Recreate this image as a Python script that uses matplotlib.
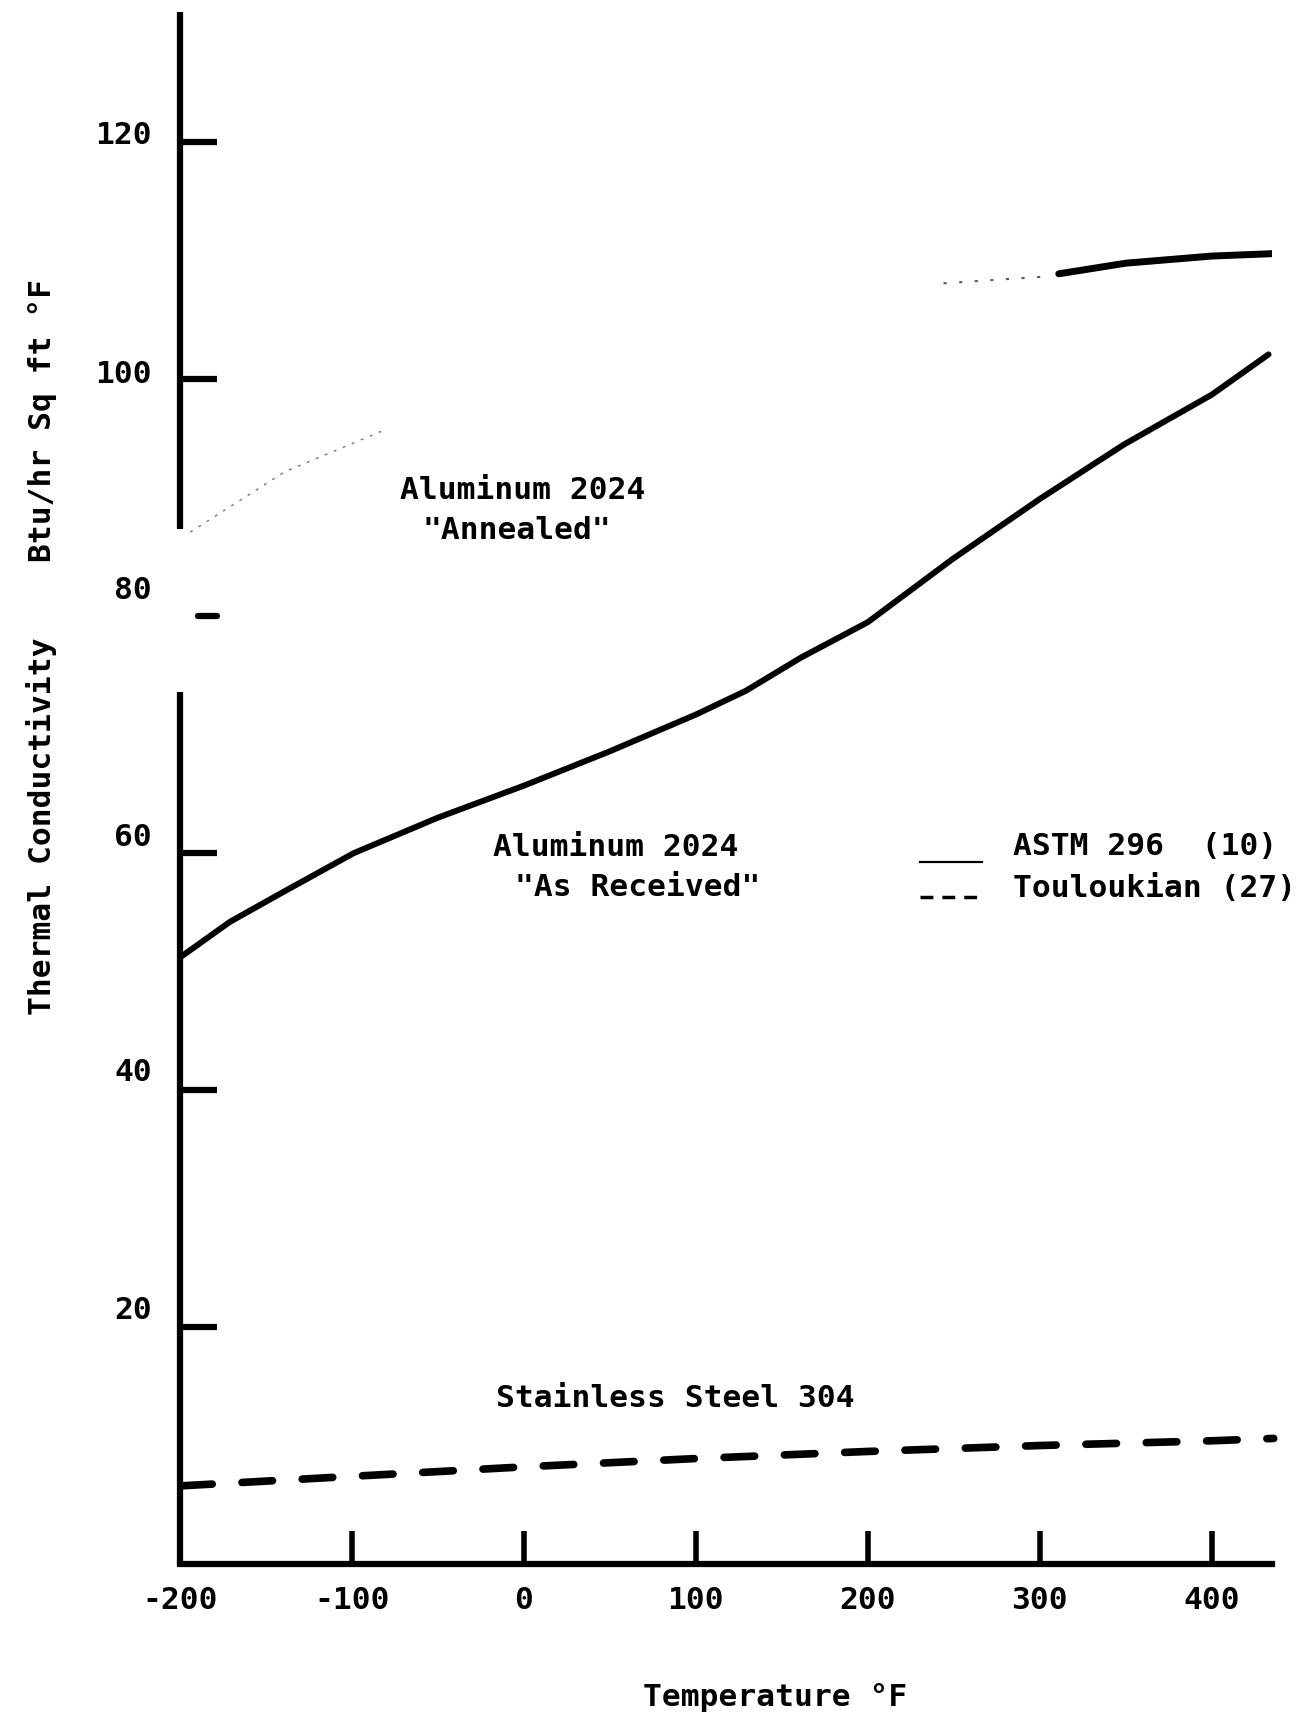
import numpy as np
import matplotlib.pyplot as plt
from matplotlib.lines import Line2D
from matplotlib.transforms import ScaledTranslation

plt.rcParams['font.family'] = 'DejaVu Sans Mono'
plt.rcParams['font.weight'] = 'bold'
plt.rcParams['font.size'] = 22.5

# Aluminum 2024 "As Received" (ASTM 296)
recv_t = [-199, -171, -139, -99, -50, 0, 50, 100, 129, 161, 200, 249, 300, 349, 400, 433]
recv_k = [51.3, 54.2, 56.8, 60.0, 63.0, 65.7, 68.6, 71.7, 73.7, 76.5, 79.5, 84.8, 89.9, 94.5, 98.7, 102.1]

# Aluminum 2024 "Annealed" - only these pieces of the curve survive
ann_left_t = [-194, -139, -83]
ann_left_k = [87.1, 92.2, 95.6]
ann_mid_t = [244, 275, 307]
ann_mid_k = [108.1, 108.4, 108.7]
ann_t = [311, 350, 400, 435]
ann_k = [108.9, 109.8, 110.4, 110.6]

# Stainless Steel 304 (Touloukian)
ss_t = [-199, -100, 0, 100, 200, 300, 400, 436]
ss_k = [6.6, 7.4, 8.2, 8.9, 9.5, 10.0, 10.4, 10.6]

xticks = [-200, -100, 0, 100, 200, 300, 400]
yticks = [20, 40, 60, 80, 100, 120]
ylab_shift = [20, 21, 19, 29, 8, 10]   # px, labels sit above their ticks

W, H = 1316, 1720
fig = plt.figure(figsize=(W / 100, H / 100), dpi=100)
ax = fig.add_axes([180 / W, 156 / H, 1092 / W, 1552 / H])
ax.set_xlim(-200, 435)
ax.set_ylim(0, 131)


def fx(x, y):
    return x / W, 1 - y / H


ax.plot(recv_t, recv_k, color='black', lw=4.3, solid_joinstyle='round', solid_capstyle='round')
ax.plot(ann_t, ann_k, color='black', lw=5, solid_capstyle='round')
ax.plot(ann_left_t, ann_left_k, color='0.45', lw=1, linestyle=(0, (2, 5)))
ax.plot(ann_mid_t, ann_mid_k, color='0.35', lw=1.5, linestyle=(0, (1.5, 6)))
ax.plot(ss_t, ss_k, color='black', lw=5.5, linestyle=(0, (4, 3.9)),
        dash_capstyle='round', clip_on=False)

# axes frame: left axis line is broken around 80
for s in ['top', 'right', 'left']:
    ax.spines[s].set_visible(False)
ax.spines['bottom'].set_linewidth(4.5)
ax.plot([-200, -200], [0, 73.6], color='black', lw=4.5, solid_capstyle='butt', clip_on=False)
ax.plot([-200, -200], [87.4, 131], color='black', lw=4.5, solid_capstyle='butt', clip_on=False)

ax.set_xticks(xticks)
ax.set_xticklabels([str(v) for v in xticks])
ax.set_yticks(yticks)
ax.set_yticklabels([str(v) for v in yticks])
ax.tick_params(axis='x', direction='in', length=23.8, width=4, pad=16, labelsize=22.5)
ax.tick_params(axis='y', direction='in', length=26.6, width=4.5, pad=20, labelsize=22.5)

# the 80 tick floats off the axis
ax.yaxis.get_major_ticks()[3].tick1line.set_visible(False)
ax.plot([-189.5, -178.5], [80, 80], color='black', lw=4.5, solid_capstyle='round', clip_on=False)

for lab, dy in zip(ax.get_yticklabels(), ylab_shift):
    lab.set_transform(lab.get_transform() + ScaledTranslation(0, dy / 100, fig.dpi_scale_trans))

# curve labels
txt = dict(ha='left', va='baseline', fontsize=22.5, fontweight='bold')
fig.text(*fx(400, 499), 'Aluminum 2024', **txt)
fig.text(*fx(422, 539), '"Annealed"', **txt)
fig.text(*fx(493, 856), 'Aluminum 2024', **txt)
fig.text(*fx(515, 896), '"As Received"', **txt)
fig.text(*fx(496, 1407), 'Stainless Steel 304', **txt)

# key
fig.text(*fx(1013, 855), 'ASTM 296  (10)', **txt)
fig.text(*fx(1013, 897), 'Touloukian (27)', **txt)
x0, y0 = fx(920, 862)
x1, _ = fx(982, 862)
fig.add_artist(Line2D([x0, x1], [y0, y0], color='black', lw=1.6))
x0, y1 = fx(920, 897)
x1, _ = fx(978, 897)
fig.add_artist(Line2D([x0, x1], [y1, y1], color='black', lw=2.5, linestyle=(0, (3.7, 2.6))))

fig.text(*fx(775, 1698), 'Temperature °F', ha='center', va='center', fontsize=22.5)
fig.text(*fx(42, 647), 'Thermal Conductivity    Btu/hr Sq ft °F', ha='center', va='center',
         rotation=90, fontsize=22.5)

fig.savefig('out.png', dpi=100)
